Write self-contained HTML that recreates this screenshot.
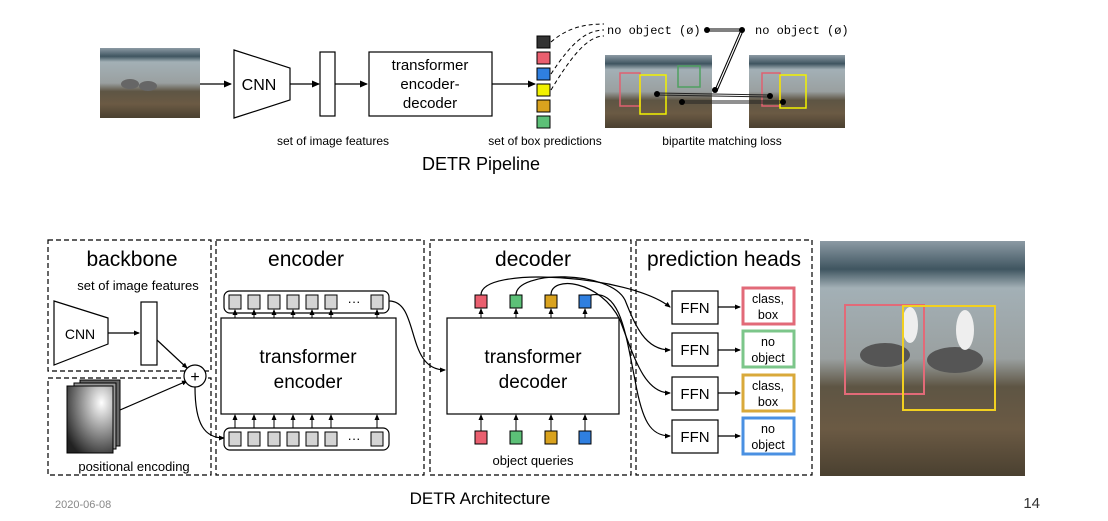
<!DOCTYPE html>
<html><head><meta charset="utf-8"><style>
html,body{margin:0;padding:0;background:#fff;}
svg{display:block;font-family:"Liberation Sans",sans-serif;}
</style></head><body>
<svg width="1108" height="521" viewBox="0 0 1108 521" xmlns="http://www.w3.org/2000/svg">
<defs>
<marker id="a" markerWidth="8" markerHeight="8" refX="7" refY="4" orient="auto" markerUnits="userSpaceOnUse"><path d="M0,0.5 L8,4 L0,7.5z" fill="#000"/></marker>
<marker id="s" markerWidth="6" markerHeight="6" refX="5" refY="3" orient="auto" markerUnits="userSpaceOnUse"><path d="M0,0.5 L6,3 L0,5.5z" fill="#000"/></marker>
<linearGradient id="ph" x1="0" y1="0" x2="0" y2="1">
<stop offset="0" stop-color="#8c9aa4"/><stop offset="0.12" stop-color="#3f5560"/><stop offset="0.2" stop-color="#a3b0b6"/><stop offset="0.5" stop-color="#9aa0a0"/><stop offset="0.62" stop-color="#5e5544"/><stop offset="0.8" stop-color="#6b5a44"/><stop offset="1" stop-color="#4a4030"/></linearGradient>
<radialGradient id="pe" cx="0.75" cy="0.25" r="0.9"><stop offset="0" stop-color="#fff"/><stop offset="1" stop-color="#222"/></radialGradient>
</defs>

<!-- TOP PIPELINE -->
<rect x="100" y="48" width="100" height="70" fill="url(#ph)"/>
<ellipse cx="130" cy="84" rx="9" ry="5" fill="#666"/><ellipse cx="148" cy="86" rx="9" ry="5" fill="#666"/>
<line x1="200" y1="84" x2="231" y2="84" stroke="#000" stroke-width="1.3" marker-end="url(#a)"/>
<path d="M234,50 L290,68 L290,100 L234,118z" fill="#fff" stroke="#000" stroke-width="1.2"/>
<text x="259" y="90" font-size="16" text-anchor="middle">CNN</text>
<line x1="290" y1="84" x2="319" y2="84" stroke="#000" stroke-width="1.3" marker-end="url(#a)"/>
<rect x="320" y="52" width="15" height="64" fill="#fff" stroke="#000" stroke-width="1.2"/>
<line x1="335" y1="84" x2="367" y2="84" stroke="#000" stroke-width="1.3" marker-end="url(#a)"/>
<rect x="369" y="52" width="123" height="64" fill="#fff" stroke="#000" stroke-width="1.2"/>
<text font-size="15" text-anchor="middle"><tspan x="430" y="70">transformer</tspan><tspan x="430" y="89">encoder-</tspan><tspan x="430" y="108">decoder</tspan></text>
<line x1="492" y1="84" x2="535" y2="84" stroke="#000" stroke-width="1.3" marker-end="url(#a)"/>
<g stroke="#000" stroke-width="1">
<rect x="537" y="36" width="13" height="12" fill="#333"/>
<rect x="537" y="52" width="13" height="12" fill="#ea5f6f"/>
<rect x="537" y="68" width="13" height="12" fill="#2f7fe0"/>
<rect x="537" y="84" width="13" height="12" fill="#f2f200"/>
<rect x="537" y="100" width="13" height="12" fill="#d9a21e"/>
<rect x="537" y="116" width="13" height="12" fill="#5cc077"/>
</g>
<g fill="none" stroke="#000" stroke-width="1" stroke-dasharray="4,3">
<path d="M551,42 C565,30 580,24 604,24"/>
<path d="M551,74 C570,45 585,30 604,30"/>
<path d="M551,90 C575,50 590,36 604,36"/>
</g>
<text x="607" y="34" font-size="12" font-family="Liberation Mono,monospace">no object (ø)</text>
<text x="755" y="34" font-size="12" font-family="Liberation Mono,monospace">no object (ø)</text>
<circle cx="707" cy="30" r="3" fill="#000"/><circle cx="742" cy="30" r="3" fill="#000"/>
<g stroke="#000" stroke-width="1" fill="none">
<line x1="707" y1="29" x2="742" y2="29"/><line x1="707" y1="31" x2="742" y2="31"/>
<line x1="741" y1="30" x2="715" y2="90"/><line x1="743" y1="31" x2="717" y2="91"/>
</g>
<rect x="605" y="55" width="107" height="73" fill="url(#ph)"/>
<rect x="749" y="55" width="96" height="73" fill="url(#ph)"/>
<g fill="none" stroke-width="1.5">
<rect x="620" y="73" width="20" height="33" stroke="#e06070"/>
<rect x="640" y="75" width="26" height="39" stroke="#f2f200"/>
<rect x="678" y="66" width="22" height="21" stroke="#4fa060"/>
<rect x="762" y="73" width="18" height="33" stroke="#e06070"/>
<rect x="780" y="75" width="26" height="33" stroke="#f2f200"/>
</g>
<g stroke="#222" stroke-width="1">
<line x1="657" y1="93" x2="770" y2="95"/><line x1="657" y1="95" x2="770" y2="97"/>
<line x1="682" y1="101" x2="783" y2="101"/><line x1="682" y1="103" x2="783" y2="103"/>
</g>
<circle cx="657" cy="94" r="3" fill="#000"/><circle cx="682" cy="102" r="3" fill="#000"/><circle cx="770" cy="96" r="3" fill="#000"/><circle cx="783" cy="102" r="3" fill="#000"/><circle cx="715" cy="90" r="3" fill="#000"/>
<text x="333" y="145" font-size="12" text-anchor="middle">set of image features</text>
<text x="545" y="145" font-size="12" text-anchor="middle">set of box predictions</text>
<text x="722" y="145" font-size="12" text-anchor="middle">bipartite matching loss</text>
<text x="481" y="170" font-size="18" text-anchor="middle">DETR Pipeline</text>

<!-- BOTTOM ARCHITECTURE -->
<g fill="none" stroke="#000" stroke-width="1.2" stroke-dasharray="5,3">
<rect x="48" y="240" width="163" height="131"/>
<rect x="48" y="378" width="163" height="97"/>
<rect x="216" y="240" width="208" height="235"/>
<rect x="430" y="240" width="201" height="235"/>
<rect x="636" y="240" width="176" height="235"/>
</g>
<text x="132" y="266" font-size="21" text-anchor="middle">backbone</text>
<text x="138" y="290" font-size="13" text-anchor="middle">set of image features</text>
<text x="306" y="266" font-size="21" text-anchor="middle">encoder</text>
<text x="533" y="266" font-size="21" text-anchor="middle">decoder</text>
<text x="724" y="266" font-size="21" text-anchor="middle">prediction heads</text>

<path d="M54,301 L108,318 L108,344 L54,365z" fill="#fff" stroke="#000" stroke-width="1.2"/>
<text x="80" y="339" font-size="14" text-anchor="middle">CNN</text>
<line x1="108" y1="333" x2="139" y2="333" stroke="#000" stroke-width="1.2" marker-end="url(#s)"/>
<rect x="141" y="302" width="16" height="63" fill="#fff" stroke="#000" stroke-width="1.2"/>
<line x1="157" y1="340" x2="187" y2="368" stroke="#000" stroke-width="1.2" marker-end="url(#s)"/>
<rect x="80" y="380" width="40" height="66" fill="#666" stroke="#000"/>
<rect x="74" y="383" width="42" height="66" fill="#999" stroke="#000"/>
<rect x="67" y="386" width="46" height="67" fill="url(#pe)" stroke="#000"/>
<line x1="120" y1="410" x2="187" y2="381" stroke="#000" stroke-width="1.2" marker-end="url(#s)"/>
<circle cx="195" cy="376" r="11" fill="#fff" stroke="#000" stroke-width="1.2"/>
<text x="195" y="382" font-size="16" text-anchor="middle">+</text>
<path d="M195,387 C195,425 205,438 224,438" fill="none" stroke="#000" stroke-width="1.2" marker-end="url(#s)"/>
<text x="134" y="471" font-size="13" text-anchor="middle">positional encoding</text>

<!-- encoder -->
<rect x="224" y="291" width="165" height="22" rx="6" fill="#fff" stroke="#000" stroke-width="1.2"/>
<rect x="224" y="428" width="165" height="22" rx="6" fill="#fff" stroke="#000" stroke-width="1.2"/>
<g fill="#d4d4d4" stroke="#000" stroke-width="1">
<rect x="229" y="295" width="12" height="14"/><rect x="248" y="295" width="12" height="14"/><rect x="268" y="295" width="12" height="14"/><rect x="287" y="295" width="12" height="14"/><rect x="306" y="295" width="12" height="14"/><rect x="325" y="295" width="12" height="14"/><rect x="371" y="295" width="12" height="14"/>
<rect x="229" y="432" width="12" height="14"/><rect x="248" y="432" width="12" height="14"/><rect x="268" y="432" width="12" height="14"/><rect x="287" y="432" width="12" height="14"/><rect x="306" y="432" width="12" height="14"/><rect x="325" y="432" width="12" height="14"/><rect x="371" y="432" width="12" height="14"/>
</g>
<text x="354" y="306" font-size="13" text-anchor="middle">···</text>
<text x="354" y="443" font-size="13" text-anchor="middle">···</text>
<rect x="221" y="318" width="175" height="96" fill="#fff" stroke="#000" stroke-width="1.2"/>
<text font-size="19" text-anchor="middle"><tspan x="308" y="363">transformer</tspan><tspan x="308" y="388">encoder</tspan></text>
<g stroke="#000" stroke-width="1" marker-end="url(#s)">
<line x1="235" y1="318" x2="235" y2="310"/><line x1="254" y1="318" x2="254" y2="310"/><line x1="274" y1="318" x2="274" y2="310"/><line x1="293" y1="318" x2="293" y2="310"/><line x1="312" y1="318" x2="312" y2="310"/><line x1="331" y1="318" x2="331" y2="310"/><line x1="377" y1="318" x2="377" y2="310"/>
<line x1="235" y1="428" x2="235" y2="415"/><line x1="254" y1="428" x2="254" y2="415"/><line x1="274" y1="428" x2="274" y2="415"/><line x1="293" y1="428" x2="293" y2="415"/><line x1="312" y1="428" x2="312" y2="415"/><line x1="331" y1="428" x2="331" y2="415"/><line x1="377" y1="428" x2="377" y2="415"/>
</g>
<path d="M389,301 C420,301 405,370 445,370" fill="none" stroke="#000" stroke-width="1.2" marker-end="url(#s)"/>

<!-- decoder -->
<rect x="447" y="318" width="172" height="96" fill="#fff" stroke="#000" stroke-width="1.2"/>
<text font-size="19" text-anchor="middle"><tspan x="533" y="363">transformer</tspan><tspan x="533" y="388">decoder</tspan></text>
<g stroke="#000" stroke-width="1">
<rect x="475" y="295" width="12" height="13" fill="#ea5f6f"/><rect x="510" y="295" width="12" height="13" fill="#5cc077"/><rect x="545" y="295" width="12" height="13" fill="#d9a21e"/><rect x="579" y="295" width="12" height="13" fill="#2f7fe0"/>
<rect x="475" y="431" width="12" height="13" fill="#ea5f6f"/><rect x="510" y="431" width="12" height="13" fill="#5cc077"/><rect x="545" y="431" width="12" height="13" fill="#d9a21e"/><rect x="579" y="431" width="12" height="13" fill="#2f7fe0"/>
</g>
<g stroke="#000" stroke-width="1" marker-end="url(#s)">
<line x1="481" y1="318" x2="481" y2="309"/><line x1="516" y1="318" x2="516" y2="309"/><line x1="551" y1="318" x2="551" y2="309"/><line x1="585" y1="318" x2="585" y2="309"/>
<line x1="481" y1="431" x2="481" y2="415"/><line x1="516" y1="431" x2="516" y2="415"/><line x1="551" y1="431" x2="551" y2="415"/><line x1="585" y1="431" x2="585" y2="415"/>
</g>
<text x="533" y="465" font-size="13" text-anchor="middle">object queries</text>

<g fill="none" stroke="#000" stroke-width="1.2" marker-end="url(#s)">
<path d="M481,295 C481,265 630,275 670,307"/>
<path d="M516,295 C516,270 610,270 625,300 C635,325 645,350 670,350"/>
<path d="M551,295 C551,275 600,280 620,320 C635,360 645,393 670,393"/>
<path d="M591,295 C620,290 625,330 635,380 C642,420 650,436 670,436"/>
</g>

<!-- heads -->
<g fill="#fff" stroke="#000" stroke-width="1.2">
<rect x="672" y="291" width="46" height="33"/><rect x="672" y="333" width="46" height="33"/><rect x="672" y="377" width="46" height="33"/><rect x="672" y="420" width="46" height="33"/>
</g>
<g font-size="15" text-anchor="middle"><text x="695" y="313">FFN</text><text x="695" y="355">FFN</text><text x="695" y="399">FFN</text><text x="695" y="442">FFN</text></g>
<g stroke="#000" stroke-width="1.2" marker-end="url(#s)">
<line x1="718" y1="307" x2="740" y2="307"/><line x1="718" y1="350" x2="740" y2="350"/><line x1="718" y1="393" x2="740" y2="393"/><line x1="718" y1="436" x2="740" y2="436"/>
</g>
<g fill="#fff" stroke-width="3">
<rect x="743" y="288" width="51" height="36" stroke="#e26a78"/>
<rect x="743" y="331" width="51" height="36" stroke="#7cc68a"/>
<rect x="743" y="375" width="51" height="36" stroke="#d9a93a"/>
<rect x="743" y="418" width="51" height="36" stroke="#4a90e2"/>
</g>
<g font-size="12.5" text-anchor="middle">
<text x="768" y="303">class,</text><text x="768" y="319">box</text>
<text x="768" y="346">no</text><text x="768" y="362">object</text>
<text x="768" y="390">class,</text><text x="768" y="406">box</text>
<text x="768" y="433">no</text><text x="768" y="449">object</text>
</g>

<!-- photo -->
<rect x="820" y="241" width="205" height="235" fill="url(#ph)"/>
<ellipse cx="885" cy="355" rx="25" ry="12" fill="#555"/><ellipse cx="955" cy="360" rx="28" ry="13" fill="#555"/>
<ellipse cx="910" cy="325" rx="8" ry="18" fill="#eee"/><ellipse cx="965" cy="330" rx="9" ry="20" fill="#eee"/>
<rect x="845" y="305" width="79" height="89" fill="none" stroke="#e26a78" stroke-width="2"/>
<rect x="903" y="306" width="92" height="104" fill="none" stroke="#f2d020" stroke-width="2"/>

<text x="480" y="504" font-size="17" text-anchor="middle">DETR Architecture</text>
<text x="55" y="508" font-size="11" fill="#888">2020-06-08</text>
<text x="1040" y="508" font-size="15" text-anchor="end" fill="#333">14</text>
</svg>
</body></html>
